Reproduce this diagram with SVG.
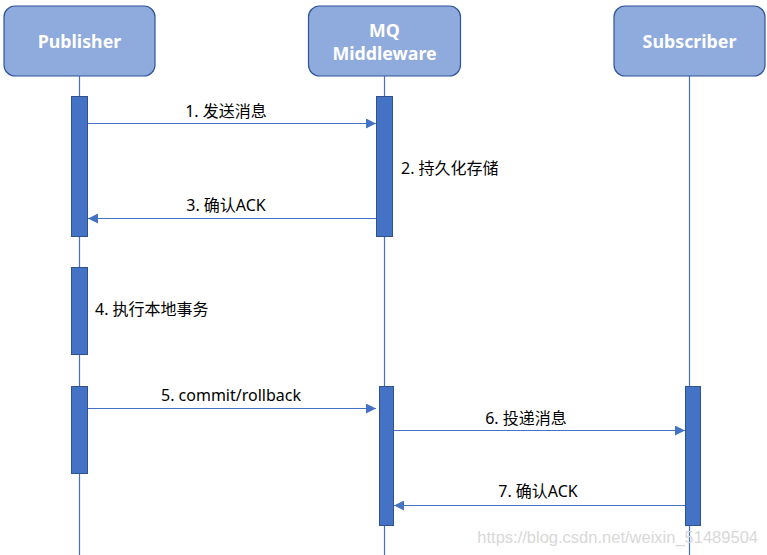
<svg xmlns="http://www.w3.org/2000/svg" width="767" height="555" viewBox="0 0 767 555">
<style>
.box{fill:#8FAADC;stroke:#2F5597;stroke-width:1.2}
.bt{fill:#fff;font-family:"Noto Sans","Noto Sans CJK SC",sans-serif;font-weight:bold;font-size:17.8px;text-anchor:middle}
.life{stroke:#4472C4;stroke-width:1.2;fill:none}
.act{fill:#4472C4;stroke:#2F528F;stroke-width:1}
.msg{stroke:#4472C4;stroke-width:1.2;fill:none;marker-end:url(#ah)}
.lbl{fill:#000;font-family:"Noto Sans","Noto Sans CJK SC",sans-serif;font-size:16px}
</style>
<defs>
<marker id="ah" viewBox="0 0 10 10" refX="10" refY="5" markerWidth="10" markerHeight="10" markerUnits="userSpaceOnUse" orient="auto">
<path d="M0,0 L10,5 L0,10 z" fill="#4472C4"/>
</marker>
</defs>
<g id="lifelines">
<line class="life" x1="79.5" y1="76" x2="79.5" y2="555"/>
<line class="life" x1="384.5" y1="76" x2="384.5" y2="555"/>
<line class="life" x1="689.5" y1="76" x2="689.5" y2="555"/>
</g>
<g id="publisher">
<rect class="box" x="4" y="6" width="151" height="70" rx="11"/>
<text class="bt" x="79.5" y="48">Publisher</text>
</g>
<g id="mq">
<rect class="box" x="308.5" y="6" width="152" height="70" rx="11"/>
<text class="bt" x="384.5" y="37">MQ</text>
<text class="bt" x="384.5" y="60">Middleware</text>
</g>
<g id="subscriber">
<rect class="box" x="614" y="6" width="151" height="70" rx="11"/>
<text class="bt" x="689.5" y="48">Subscriber</text>
</g>
<g id="activations">
<rect class="act" x="71.5" y="96.5" width="16" height="140"/>
<rect class="act" x="71.5" y="267.5" width="16" height="87"/>
<rect class="act" x="71.5" y="386.5" width="16" height="87"/>
<rect class="act" x="376.5" y="96.5" width="16" height="140"/>
<rect class="act" x="379.5" y="386.5" width="14" height="139"/>
<rect class="act" x="685.5" y="386.5" width="15" height="139"/>
</g>
<g id="connectors">
<line class="msg" x1="88" y1="123.5" x2="376" y2="123.5"/>
<line class="msg" x1="376" y1="218.5" x2="88" y2="218.5"/>
<line class="msg" x1="88" y1="408.5" x2="376" y2="408.5"/>
<line class="msg" x1="394" y1="430.5" x2="685" y2="430.5"/>
<line class="msg" x1="685" y1="505.5" x2="394" y2="505.5"/>
</g>
<g id="labels">
<text class="lbl" x="226" y="117" text-anchor="middle">1. 发送消息</text>
<text class="lbl" x="401" y="174">2. 持久化存储</text>
<text class="lbl" x="226" y="211" text-anchor="middle">3. 确认ACK</text>
<text class="lbl" x="95" y="315">4. 执行本地事务</text>
<text class="lbl" x="231" y="401" text-anchor="middle">5. commit/rollback</text>
<text class="lbl" x="526" y="424" text-anchor="middle">6. 投递消息</text>
<text class="lbl" x="538" y="497" text-anchor="middle">7. 确认ACK</text>
</g>
<text x="758" y="543" text-anchor="end" font-family="'Liberation Sans',Arial,sans-serif" font-size="16.5" fill="#d8d8d8">https://blog.csdn.net/weixin_51489504</text>
</svg>
